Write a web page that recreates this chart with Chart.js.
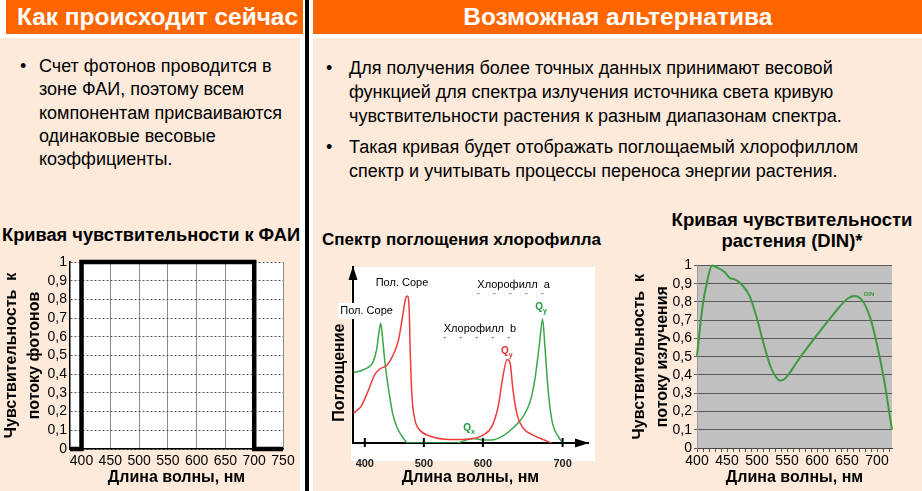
<!DOCTYPE html>
<html>
<head>
<meta charset="utf-8">
<script src="https://cdn.jsdelivr.net/npm/chart.js@4.4.1/dist/chart.umd.min.js"></script>
<style>
body { margin: 0; width: 922px; height: 491px; position: relative; overflow: hidden; background: #fff;
       font-family: "Liberation Sans", Arial, sans-serif; color: #000; }
.abs { position: absolute; }
.peach { background: #FDEADA; }
.hdr { background: #FF6600; color: #fff; font-weight: bold; font-size: 24px; line-height: 34px; white-space: nowrap; overflow: hidden; }
.hdr span, .fit { display: inline-block; white-space: nowrap; }
.txt { font-size: 18px; white-space: nowrap; }
.txt .b { position: absolute; }
.ttl { font-weight: bold; white-space: nowrap; }
canvas { position: absolute; }
</style>
</head>
<body>
<div class="abs peach" style="left:0;top:38px;width:300px;height:453px"></div>
<div class="abs peach" style="left:313px;top:38px;width:609px;height:453px"></div>
<div class="abs" style="left:305px;top:0;width:4px;height:491px;background:#000"></div>
<div class="abs hdr" style="left:6px;top:0;width:297px;height:34px;padding-left:11px;box-sizing:border-box"><span data-w="281" style="transform-origin:left center">Как происходит сейчас</span></div>
<div class="abs hdr" style="left:313px;top:0;width:609px;height:34px;text-align:center"><span data-w="309" style="transform-origin:center center">Возможная альтернатива</span></div>

<div class="abs txt" style="left:20px;top:55px;line-height:23.3px">
  <span class="b" style="left:0">•</span>
  <div style="margin-left:19px">Счет фотонов проводится в<br>зоне ФАИ, поэтому всем<br>компонентам присваиваются<br>одинаковые весовые<br>коэффициенты.</div>
</div>
<div class="abs txt" style="left:326px;top:56px;line-height:24px">
  <span class="b" style="left:0">•</span>
  <div style="margin-left:23px">Для получения более точных данных принимают весовой<br>функцией для спектра излучения источника света кривую<br>чувствительности растения к разным диапазонам спектра.</div>
</div>
<div class="abs txt" style="left:326px;top:135px;line-height:24px">
  <span class="b" style="left:0">•</span>
  <div style="margin-left:23px">Такая кривая будет отображать поглощаемый хлорофиллом<br>спектр и учитывать процессы переноса энергии растения.</div>
</div>

<div class="abs ttl" style="left:2px;top:225px;line-height:20px;font-size:18px"><span class="fit" data-w="298" style="transform-origin:left center">Кривая чувствительности к ФАИ</span></div>
<div class="abs ttl" style="left:322px;top:230px;line-height:20px;font-size:17px">Спектр поглощения хлорофилла</div>
<div class="abs ttl" style="left:652px;top:209px;width:280px;text-align:center;line-height:21px;font-size:18.5px">Кривая чувствительности<br>растения (DIN)*</div>

<div class="abs" style="left:351px;top:267px;width:244px;height:194px;background:#fff"></div>

<canvas id="chartFai" width="300" height="241" style="left:0;top:250px"></canvas>
<canvas id="chartChl" width="280" height="229" style="left:322px;top:262px"></canvas>
<canvas id="chartDin" width="310" height="236" style="left:612px;top:255px"></canvas>

<script>
// squeeze header text to the narrow face of the slide
document.querySelectorAll('[data-w]').forEach(el => {
  const w = el.getBoundingClientRect().width;
  el.style.transform = 'scaleX(' + (el.dataset.w / w) + ')';
});

// ---- data ----
const faiWave = [380, 400, 400, 700, 700, 750];
const faiSens = [0, 0, 1, 1, 0, 0];
const faiWaveTicks = [400, 450, 500, 550, 600, 650, 700, 750];

const shareTicks = [0, 0.1, 0.2, 0.3, 0.4, 0.5, 0.6, 0.7, 0.8, 0.9, 1];
const shareLabels = ['0', '0,1', '0,2', '0,3', '0,4', '0,5', '0,6', '0,7', '0,8', '0,9', '1'];

// chlorophyll absorption (its x axis is not quite linear,
// so the "700" tick sits at 735 of our axis units)
const chlTicks = [400, 500, 600, 735];
const chlTickLabels = ['400', '500', '600', '700'];
const chlAWave = [381, 400, 414, 420, 424, 427, 430, 434, 440, 447, 455, 465, 473, 555, 572, 584, 600, 615, 634, 651, 668, 680, 688, 696, 701, 705, 711, 718, 728, 735];
const chlAAbs  = [0.40, 0.42, 0.46, 0.53, 0.63, 0.68, 0.60, 0.46, 0.31, 0.17, 0.085, 0.03, 0, 0, 0.017, 0.025, 0.017, 0.017, 0.04, 0.085, 0.15, 0.235, 0.36, 0.57, 0.705, 0.55, 0.28, 0.11, 0.035, 0];
const chlBWave = [381, 394, 406, 417, 425, 437, 448, 457, 464, 469, 472, 475, 477, 480, 485, 493, 510, 544, 578, 600, 615, 626, 634, 641, 646, 651, 658, 668, 685, 702, 716];
const chlBAbs  = [0.17, 0.21, 0.30, 0.39, 0.42, 0.44, 0.50, 0.585, 0.72, 0.82, 0.835, 0.775, 0.51, 0.26, 0.13, 0.074, 0.04, 0.02, 0.023, 0.045, 0.093, 0.21, 0.38, 0.475, 0.455, 0.30, 0.16, 0.085, 0.045, 0.02, 0];

const chlNotes = [
  { text: 'Пол. Соре', x: 463, y: 0.91, box: true },
  { text: 'Пол. Соре', x: 403, y: 0.75, box: true },
  { text: 'Хлорофилл  a', x: 652, y: 0.90, line: '#3aa64a' },
  { text: 'Хлорофилл  b', x: 595, y: 0.65, line: '#ee3b3b' }
];
const chlPeaks = [
  { sub: 'y', x: 700, y: 0.77, color: '#1f9a3c' },
  { sub: 'y', x: 642, y: 0.52, color: '#e52c2c' },
  { sub: 'x', x: 578, y: 0.085, color: '#1f9a3c' }
];

// DIN plant sensitivity
const dinWave = [400, 409, 418, 425, 432, 446, 455, 462, 476, 488, 499, 510, 521, 532, 539, 546, 555, 566, 588, 605, 622, 638, 652, 663, 672, 680, 689, 700, 711, 725];
const dinSens = [0.505, 0.77, 0.93, 1.0, 0.99, 0.964, 0.93, 0.925, 0.89, 0.83, 0.72, 0.585, 0.46, 0.387, 0.37, 0.378, 0.414, 0.468, 0.567, 0.64, 0.71, 0.775, 0.82, 0.832, 0.82, 0.784, 0.71, 0.567, 0.387, 0.1];
const dinWaveTicks = [400, 410, 420, 430, 440, 450, 460, 470, 480, 490, 500, 510, 520, 530, 540, 550, 560, 570, 580, 590, 600, 610, 620, 630, 640, 650, 660, 670, 680, 690, 700, 710, 720];

const FONT = '"Liberation Sans", Arial, sans-serif';
Chart.defaults.font.family = FONT;
Chart.defaults.color = '#000';

const pts = (xs, ys) => xs.map((x, i) => ({ x: x, y: ys[i] }));
const setTicks = vals => scale => { scale.ticks = vals.map(v => ({ value: v })); };

const plotBg = {
  id: 'plotBg',
  beforeDraw(chart, args, opts) {
    const { ctx, chartArea: a } = chart;
    ctx.save();
    ctx.fillStyle = opts.color;
    ctx.fillRect(a.left, a.top, a.width, a.height);
    ctx.restore();
  }
};

const base = {
  responsive: false,
  animation: false,
  devicePixelRatio: 1,
  events: []
};

// ---- 1: PAR sensitivity ----
new Chart(document.getElementById('chartFai'), {
  type: 'line',
  data: {
    datasets: [{
      data: pts(faiWave, faiSens),
      borderColor: '#000',
      borderWidth: 4.5,
      pointRadius: 0,
      clip: false
    }]
  },
  plugins: [plotBg],
  options: Object.assign({}, base, {
    layout: { padding: { top: 12, right: 17, left: 0, bottom: 0 } },
    plugins: { legend: { display: false }, tooltip: { enabled: false }, plotBg: { color: '#fff' } },
    scales: {
      x: {
        type: 'linear', min: 380, max: 750,
        afterBuildTicks: setTicks(faiWaveTicks),
        afterFit: s => { s.height = 42; },
        grid: { color: '#8c8c8c', drawTicks: false },
        border: { color: '#000', width: 1.5 },
        ticks: { font: { size: 14 }, padding: 4, maxRotation: 0, autoSkip: false },
        title: { display: true, text: 'Длина волны, нм', font: { size: 16, weight: 'bold' }, padding: { top: 0, bottom: 4 } }
      },
      y: {
        min: 0, max: 1,
        afterBuildTicks: setTicks(shareTicks),
        afterFit: s => { s.width = 70; },
        grid: { color: '#555', drawTicks: false },
        border: { color: '#000', width: 1.5, dash: [2, 2] },
        ticks: { font: { size: 14 }, padding: 3, autoSkip: false, callback: (v, i) => shareLabels[i] },
        title: { display: true, text: ['Чувствительность  к', 'потоку фотонов'], font: { size: 16, weight: 'bold', lineHeight: '23px' }, padding: { top: 0, bottom: 0 } }
      }
    }
  })
});

// ---- 2: chlorophyll absorption ----
const chlDecor = {
  id: 'chlDecor',
  afterDatasetsDraw(chart) {
    const { ctx, chartArea: a, scales: { x, y } } = chart;
    ctx.save();
    ctx.fillStyle = '#000';
    ctx.strokeStyle = '#000';
    // arrow heads
    ctx.beginPath();
    ctx.moveTo(a.left, a.top - 1); ctx.lineTo(a.left - 4.5, a.top + 13); ctx.lineTo(a.left + 4.5, a.top + 13);
    ctx.closePath(); ctx.fill();
    ctx.beginPath();
    ctx.moveTo(a.right + 1, a.bottom); ctx.lineTo(a.right - 13, a.bottom - 4.5); ctx.lineTo(a.right - 13, a.bottom + 4.5);
    ctx.closePath(); ctx.fill();
    // tick marks crossing the axis
    ctx.lineWidth = 2;
    x.ticks.forEach(t => {
      const px = x.getPixelForValue(t.value);
      ctx.beginPath(); ctx.moveTo(px, a.bottom - 5); ctx.lineTo(px, a.bottom + 4); ctx.stroke();
    });
    // notes
    ctx.font = '11px ' + FONT;
    ctx.textAlign = 'center';
    ctx.textBaseline = 'middle';
    chlNotes.forEach(n => {
      const px = x.getPixelForValue(n.x), py = y.getPixelForValue(n.y);
      const w = ctx.measureText(n.text).width;
      if (n.box) { ctx.fillStyle = '#fff'; ctx.fillRect(px - w / 2 - 2, py - 8, w + 4, 16); }
      if (n.line) {
        ctx.strokeStyle = n.line; ctx.lineWidth = 1; ctx.setLineDash([2, 14]);
        ctx.beginPath(); ctx.moveTo(px - w / 2, py + 9); ctx.lineTo(px + w / 2, py + 9); ctx.stroke();
        ctx.setLineDash([]);
      }
      ctx.fillStyle = '#000';
      ctx.fillText(n.text, px, py);
    });
    chlPeaks.forEach(p => {
      const px = x.getPixelForValue(p.x), py = y.getPixelForValue(p.y);
      ctx.fillStyle = p.color;
      ctx.font = 'bold 10px ' + FONT;
      ctx.textAlign = 'right';
      ctx.fillText('Q', px + 1, py);
      ctx.font = 'bold 7px ' + FONT;
      ctx.textAlign = 'left';
      ctx.fillText(p.sub, px + 1, py + 4);
    });
    // y axis title
    ctx.fillStyle = '#000';
    ctx.font = 'bold 16px ' + FONT;
    ctx.textAlign = 'center';
    ctx.translate(a.left - 13, y.getPixelForValue(0.4));
    ctx.rotate(-Math.PI / 2);
    ctx.fillText('Поглощение', 0, 0);
    ctx.restore();
  }
};

new Chart(document.getElementById('chartChl'), {
  type: 'line',
  data: {
    datasets: [
      { label: 'Хлорофилл b', data: pts(chlBWave, chlBAbs), borderColor: '#f03c3c', borderWidth: 1.5, pointRadius: 0, cubicInterpolationMode: 'monotone' },
      { label: 'Хлорофилл a', data: pts(chlAWave, chlAAbs), borderColor: '#3aa64a', borderWidth: 1.5, pointRadius: 0, cubicInterpolationMode: 'monotone' }
    ]
  },
  plugins: [chlDecor],
  options: Object.assign({}, base, {
    layout: { padding: { top: 5, right: 14, left: 0, bottom: 0 } },
    plugins: { legend: { display: false }, tooltip: { enabled: false } },
    scales: {
      x: {
        type: 'linear', min: 380, max: 778,
        afterBuildTicks: setTicks(chlTicks),
        afterFit: s => { s.height = 48; },
        grid: { display: false },
        border: { color: '#000', width: 2 },
        ticks: { font: { size: 11, weight: 'bold' }, color: '#222', padding: 6, maxRotation: 0, autoSkip: false, callback: (v, i) => chlTickLabels[i] },
        title: { display: true, text: 'Длина волны, нм', font: { size: 16, weight: 'bold' }, padding: { top: 0, bottom: 4 } }
      },
      y: {
        min: 0, max: 1,
        afterFit: s => { s.width = 31; },
        grid: { display: false },
        border: { color: '#000', width: 2 },
        ticks: { display: false }
      }
    }
  })
});

// ---- 3: DIN plant sensitivity ----
const dinLabel = {
  id: 'dinLabel',
  afterDatasetsDraw(chart) {
    const { ctx, scales: { x, y } } = chart;
    ctx.save();
    ctx.fillStyle = '#3f9a3f';
    ctx.font = 'bold 6px ' + FONT;
    ctx.textAlign = 'center';
    ctx.textBaseline = 'middle';
    ctx.fillText('DIN', x.getPixelForValue(687), y.getPixelForValue(0.84));
    ctx.restore();
  }
};

new Chart(document.getElementById('chartDin'), {
  type: 'line',
  data: {
    datasets: [{
      label: 'DIN',
      data: pts(dinWave, dinSens),
      borderColor: '#3f9a3f',
      borderWidth: 2,
      pointRadius: 0,
      cubicInterpolationMode: 'monotone',
      clip: false
    }]
  },
  plugins: [plotBg, dinLabel],
  options: Object.assign({}, base, {
    layout: { padding: { top: 8, right: 30, left: 0, bottom: 0 } },
    plugins: { legend: { display: false }, tooltip: { enabled: false }, plotBg: { color: '#c0c0c0' } },
    scales: {
      x: {
        type: 'linear', min: 400, max: 725,
        afterBuildTicks: setTicks(dinWaveTicks),
        afterFit: s => { s.height = 43; },
        grid: { drawOnChartArea: false, color: '#555', tickLength: 4 },
        border: { color: '#444', width: 1 },
        ticks: { font: { size: 14 }, padding: 1, maxRotation: 0, autoSkip: false, callback: v => (v % 50 === 0 ? String(v) : '') },
        title: { display: true, text: 'Длина волны, нм', font: { size: 16, weight: 'bold' }, padding: { top: 0, bottom: 4 } }
      },
      y: {
        min: 0, max: 1,
        afterBuildTicks: setTicks(shareTicks),
        afterFit: s => { s.width = 85; },
        grid: { color: '#5a5a5a', tickLength: 3 },
        border: { color: '#999', width: 1 },
        ticks: { font: { size: 14 }, padding: 2, autoSkip: false, callback: (v, i) => shareLabels[i] },
        title: { display: true, text: ['Чувствительность  к', 'потоку излучения'], font: { size: 16, weight: 'bold', lineHeight: '23px' }, padding: { top: 16.5, bottom: 0 } }
      }
    }
  })
});
</script>
</body>
</html>
